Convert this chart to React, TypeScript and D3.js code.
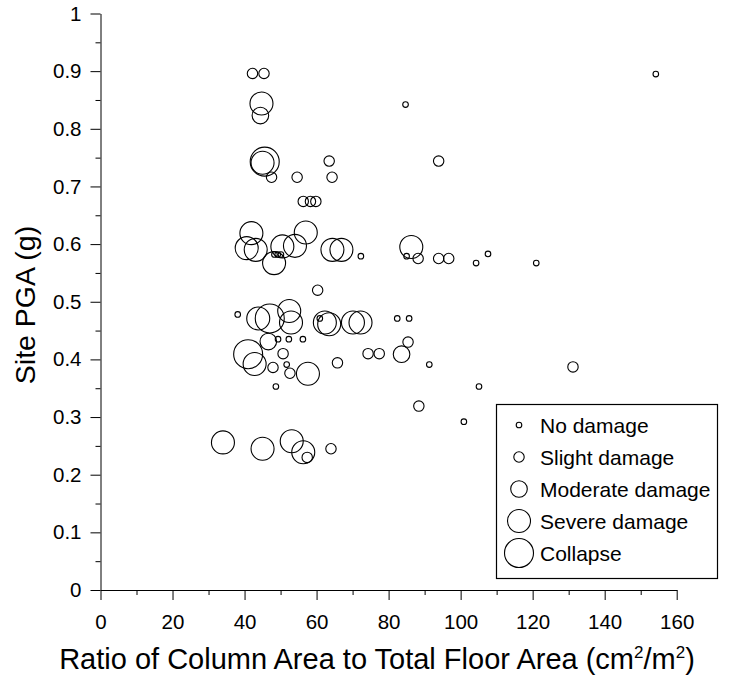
import { useEffect, useRef } from "react"
import * as d3 from 'd3'

// [ratio (cm2/m2), site PGA (g)] per damage class
const noDamage = [
  [154.2, 0.895], [84.7, 0.842], [48.3, 0.582], [49.2, 0.582], [50.1, 0.582], [72.3, 0.579],
  [85.0, 0.579], [104.3, 0.567], [107.6, 0.583], [121.0, 0.567], [38.1, 0.478], [60.9, 0.471],
  [82.4, 0.471], [85.7, 0.471], [49.3, 0.435], [52.3, 0.435], [56.2, 0.435], [51.7, 0.391],
  [91.3, 0.391], [48.7, 0.353], [105.1, 0.353], [100.9, 0.292]
]
const slightDamage = [
  [42.2, 0.896], [45.4, 0.896], [47.5, 0.716], [54.6, 0.716], [63.5, 0.744], [64.3, 0.716],
  [93.9, 0.744], [56.3, 0.674], [58.3, 0.674], [59.8, 0.674], [88.2, 0.575], [93.9, 0.575],
  [96.7, 0.575], [60.3, 0.520], [85.4, 0.430], [47.9, 0.386], [50.7, 0.410], [52.6, 0.376],
  [65.8, 0.394], [74.3, 0.410], [77.4, 0.410], [131.2, 0.387], [88.4, 0.319], [57.4, 0.230],
  [64.0, 0.245]
]
const moderateDamage = [[44.4, 0.823], [46.6, 0.431], [83.6, 0.409]]
const severeDamage = [
  [44.7, 0.844], [45.0, 0.741], [41.9, 0.619], [40.6, 0.593], [43.1, 0.590], [48.2, 0.567],
  [50.5, 0.596], [54.0, 0.597], [57.0, 0.620], [64.4, 0.590], [66.9, 0.590], [86.3, 0.595],
  [43.8, 0.471], [52.4, 0.484], [52.9, 0.464], [62.3, 0.464], [63.5, 0.461], [70.1, 0.464],
  [72.2, 0.464], [42.8, 0.392], [57.6, 0.375], [34.0, 0.256], [45.0, 0.245], [53.1, 0.258],
  [56.3, 0.239]
]
const collapse = [[45.6, 0.743], [47.0, 0.471], [41.0, 0.409]]

const classNames = ['No damage', 'Slight damage', 'Moderate damage', 'Severe damage', 'Collapse']
const classRadius = [2.8, 5.2, 8.3, 11.5, 14.5]

const xTicks = [0, 20, 40, 60, 80, 100, 120, 140, 160]
const xMinor = [10, 30, 50, 70, 90, 110, 130, 150]
const yTicks = [0, 0.1, 0.2, 0.3, 0.4, 0.5, 0.6, 0.7, 0.8, 0.9, 1]
const yTickLabels = ['0', '0.1', '0.2', '0.3', '0.4', '0.5', '0.6', '0.7', '0.8', '0.9', '1']
const yMinor = [0.05, 0.15, 0.25, 0.35, 0.45, 0.55, 0.65, 0.75, 0.85, 0.95]

const FONT = 'Arial, "Liberation Sans", Helvetica, sans-serif'

export default function App() {
  const svgRef = useRef<SVGSVGElement>(null)

  useEffect(() => {
    if (!svgRef.current) return
    const svg = d3.select(svgRef.current)
    svg.selectAll('*').remove()

    const xScale = d3.scaleLinear().domain([0, 160]).range([100.5, 676.7])
    const yScale = d3.scaleLinear().domain([0, 1]).range([590, 13.5])
    const x0 = xScale(0)
    const y0 = yScale(0)

    const styleAxis = (g: d3.Selection<SVGGElement, unknown, null, undefined>) => {
      g.attr('font-family', FONT).attr('font-size', 20.5)
      g.selectAll('line').attr('stroke', '#000').attr('stroke-width', 1)
      g.selectAll('path').attr('stroke', '#000').attr('stroke-width', 1)
      g.selectAll('text').attr('fill', '#000')
    }

    // x axis
    const xAxis = svg.append('g').attr('transform', `translate(0,${y0})`)
      .call(d3.axisBottom(xScale).tickValues(xTicks).tickSize(10).tickSizeOuter(0).tickPadding(14)
        .tickFormat(d => String(d)))
    styleAxis(xAxis)
    const xMin = svg.append('g').attr('transform', `translate(0,${y0})`)
      .call(d3.axisBottom(xScale).tickValues(xMinor).tickSize(5).tickFormat(() => ''))
    xMin.select('.domain').remove()
    styleAxis(xMin)

    // y axis
    const yAxis = svg.append('g').attr('transform', `translate(${x0},0)`)
      .call(d3.axisLeft(yScale).tickValues(yTicks).tickSize(10).tickSizeOuter(0).tickPadding(9)
        .tickFormat((d, i) => yTickLabels[i]))
    styleAxis(yAxis)
    const yMin = svg.append('g').attr('transform', `translate(${x0},0)`)
      .call(d3.axisLeft(yScale).tickValues(yMinor).tickSize(5).tickFormat(() => ''))
    yMin.select('.domain').remove()
    styleAxis(yMin)

    // points
    const classes = [noDamage, slightDamage, moderateDamage, severeDamage, collapse]
    classes.forEach((pts, ci) => {
      svg.append('g').selectAll('circle').data(pts).join('circle')
        .attr('cx', d => xScale(d[0]))
        .attr('cy', d => yScale(d[1]))
        .attr('r', classRadius[ci])
        .attr('fill', 'none')
        .attr('stroke', '#000')
        .attr('stroke-width', 1.1)
    })

    // legend
    const legend = svg.append('g')
    legend.append('rect')
      .attr('x', 496.5).attr('y', 404.5).attr('width', 221).attr('height', 174)
      .attr('fill', '#fff').attr('stroke', '#000').attr('stroke-width', 1.2)
    classNames.forEach((name, i) => {
      const cy = 425 + i * 32
      legend.append('circle')
        .attr('cx', 519).attr('cy', cy).attr('r', classRadius[i])
        .attr('fill', 'none').attr('stroke', '#000').attr('stroke-width', 1.1)
      legend.append('text')
        .attr('x', 540).attr('y', cy + 7.5)
        .attr('font-family', FONT).attr('font-size', 21).attr('fill', '#000')
        .text(name)
    })

    // axis titles
    const xt = svg.append('text')
      .attr('x', 377).attr('y', 669)
      .attr('text-anchor', 'middle')
      .attr('font-family', FONT).attr('font-size', 29).attr('fill', '#000')
    xt.append('tspan').text('Ratio of Column Area to Total Floor Area (cm')
    xt.append('tspan').attr('font-size', 17).attr('dy', -11).text('2')
    xt.append('tspan').attr('dy', 11).text('/m')
    xt.append('tspan').attr('font-size', 17).attr('dy', -11).text('2')
    xt.append('tspan').attr('dy', 11).text(')')

    svg.append('text')
      .attr('transform', 'translate(35,305) rotate(-90)')
      .attr('text-anchor', 'middle')
      .attr('font-family', FONT).attr('font-size', 28.5).attr('fill', '#000')
      .text('Site PGA (g)')
  }, [])

  return (
    <svg ref={svgRef} width={741} height={681}
      style={{ position: 'absolute', left: 0, top: 0, background: '#fff' }} />
  )
}
